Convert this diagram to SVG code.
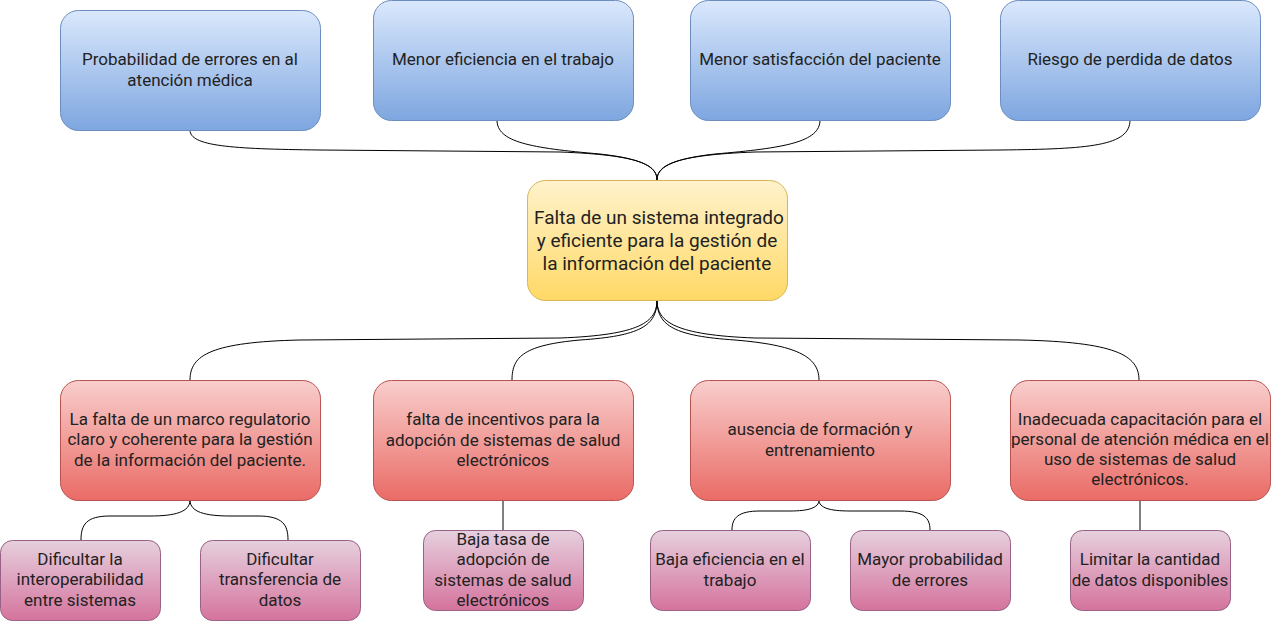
<svg xmlns="http://www.w3.org/2000/svg" width="1271" height="621" viewBox="0 0 1271 621">
<defs>
<linearGradient id="gBlue" x1="0" y1="0" x2="0" y2="1"><stop offset="0" stop-color="#dae8fc"/><stop offset="1" stop-color="#7ea6e0"/></linearGradient>
<linearGradient id="gYellow" x1="0" y1="0" x2="0" y2="1"><stop offset="0" stop-color="#fff2cc"/><stop offset="1" stop-color="#ffd966"/></linearGradient>
<linearGradient id="gRed" x1="0" y1="0" x2="0" y2="1"><stop offset="0" stop-color="#f8cecc"/><stop offset="1" stop-color="#ea6b66"/></linearGradient>
<linearGradient id="gPink" x1="0" y1="0" x2="0" y2="1"><stop offset="0" stop-color="#e6d0de"/><stop offset="1" stop-color="#d5739d"/></linearGradient>
<style>
.blue{fill:url(#gBlue);stroke:#6c8ebf;stroke-width:1}
.yellow{fill:url(#gYellow);stroke:#d6b656;stroke-width:1}
.red{fill:url(#gRed);stroke:#b85450;stroke-width:1}
.pink{fill:url(#gPink);stroke:#996185;stroke-width:1}
text{font-family:Roboto,"Liberation Sans",sans-serif;font-size:17px;fill:#222;text-anchor:middle}
.big{font-size:19px}
.conn path{fill:none;stroke:#000;stroke-width:1}
</style>
</defs>
<rect width="1271" height="621" fill="#fff"/>
<g class="conn" id="connectors">
<path d="M190,130 C190,146 230,149 320,150 L560,152 C640,155 657,165 657,180"/>
<path d="M497,120 C497,142 530,148 600,154 C645,159 657,168 657,180"/>
<path d="M820,120 C820,142 785,148 715,154 C670,159 657,168 657,180"/>
<path d="M1130,120 C1130,146 1090,149 1000,150 L755,152 C675,155 657,165 657,180"/>
<path d="M657,300 C657,322 640,335 560,338 L300,340 C212,342 190,355 190,380"/>
<path d="M657,300 C657,326 640,336 580,340 C525,345 512,356 512,380"/>
<path d="M657,300 C657,326 675,336 735,340 C795,345 819,356 819,380"/>
<path d="M657,300 C657,322 675,335 755,338 L1020,340 C1115,342 1139,355 1139,380"/>
<path d="M190,500 C190,512 175,516 150,516 L110,516 C86,516 81,525 81,540"/>
<path d="M190,500 C190,512 205,516 230,516 L258,516 C283,516 288,525 288,540"/>
<path d="M503,500 L503,530"/>
<path d="M819,500 C819,508 808,511 790,511 L760,511 C738,511 732,518 732,530"/>
<path d="M819,500 C819,508 830,511 850,511 L900,511 C924,511 930,518 930,530"/>
<path d="M1140,500 L1140,530"/>
</g>
<g id="top1"><rect class="blue" x="60.5" y="10.5" width="260" height="120" rx="18"/><text x="190" y="65">Probabilidad de errores en al</text><text x="190" y="86">atención médica</text></g>
<g id="top2"><rect class="blue" x="373.5" y="0.5" width="260" height="120" rx="18"/><text x="503" y="65">Menor eficiencia en el trabajo</text></g>
<g id="top3"><rect class="blue" x="690.5" y="0.5" width="260" height="120" rx="18"/><text x="820" y="65">Menor satisfacción del paciente</text></g>
<g id="top4"><rect class="blue" x="1000.5" y="0.5" width="260" height="120" rx="18"/><text x="1130" y="65">Riesgo de perdida de datos</text></g>
<g id="center"><rect class="yellow" x="527.5" y="180.5" width="260" height="120" rx="18"/><text class="big" x="659" y="224">Falta de un sistema integrado</text><text class="big" x="657" y="247">y eficiente para la gestión de</text><text class="big" x="657" y="270">la información del paciente</text></g>
<g id="cause1"><rect class="red" x="60.5" y="380.5" width="260" height="120" rx="18"/><text x="190" y="425">La falta de un marco regulatorio</text><text x="190" y="445">claro y coherente para la gestión</text><text x="190" y="466">de la información del paciente.</text></g>
<g id="cause2"><rect class="red" x="373.5" y="380.5" width="260" height="120" rx="18"/><text x="503" y="425">falta de incentivos para la</text><text x="503" y="446">adopción de sistemas de salud</text><text x="503" y="466">electrónicos</text></g>
<g id="cause3"><rect class="red" x="690.5" y="380.5" width="260" height="120" rx="18"/><text x="820" y="435">ausencia de formación y</text><text x="820" y="456">entrenamiento</text></g>
<g id="cause4"><rect class="red" x="1010.5" y="380.5" width="260" height="120" rx="18"/><text x="1140" y="425">Inadecuada capacitación para el</text><text x="1140" y="445">personal de atención médica en el</text><text x="1140" y="465">uso de sistemas de salud</text><text x="1140" y="485">electrónicos.</text></g>
<g id="eff1"><rect class="pink" x="0.5" y="540.5" width="160" height="80" rx="12"/><text x="80" y="565">Dificultar la</text><text x="80" y="585">interoperabilidad</text><text x="80" y="606">entre sistemas</text></g>
<g id="eff2"><rect class="pink" x="200.5" y="540.5" width="160" height="80" rx="12"/><text x="280" y="565">Dificultar</text><text x="280" y="585">transferencia de</text><text x="280" y="606">datos</text></g>
<g id="eff3"><rect class="pink" x="423.5" y="530.5" width="160" height="80" rx="12"/><text x="503" y="545">Baja tasa de</text><text x="503" y="565">adopción de</text><text x="503" y="586">sistemas de salud</text><text x="503" y="606">electrónicos</text></g>
<g id="eff4"><rect class="pink" x="650.5" y="530.5" width="160" height="80" rx="12"/><text x="730" y="565">Baja eficiencia en el</text><text x="730" y="586">trabajo</text></g>
<g id="eff5"><rect class="pink" x="850.5" y="530.5" width="160" height="80" rx="12"/><text x="930" y="565">Mayor probabilidad</text><text x="930" y="586">de errores</text></g>
<g id="eff6"><rect class="pink" x="1070.5" y="530.5" width="160" height="80" rx="12"/><text x="1150" y="565">Limitar la cantidad</text><text x="1150" y="586">de datos disponibles</text></g>
</svg>
